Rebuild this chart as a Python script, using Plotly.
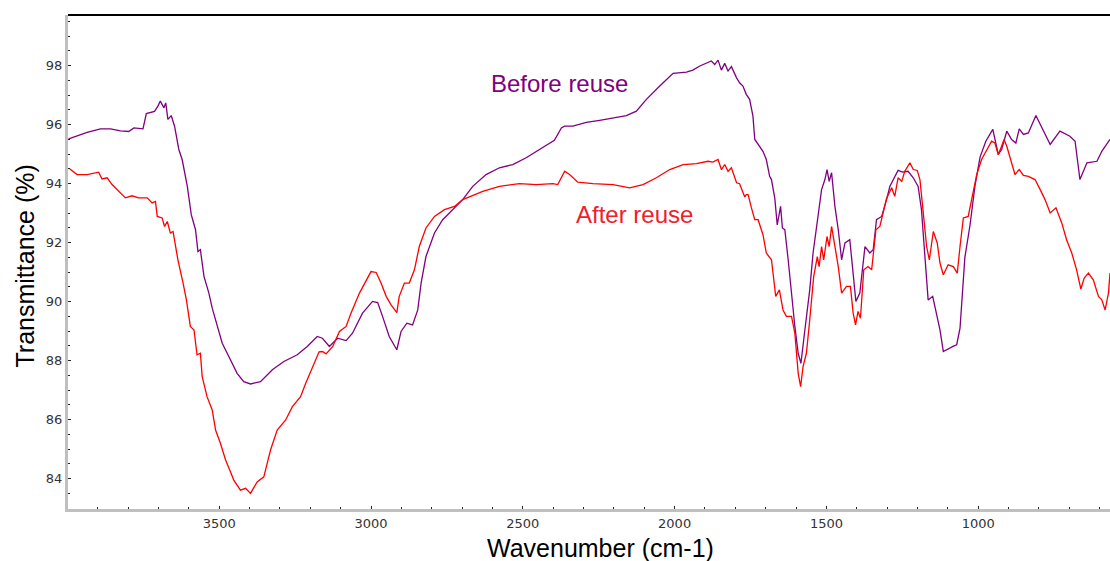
import plotly.graph_objects as go

# Before reuse (purple)
before_wn = [3996, 3935, 3891, 3858, 3825, 3798, 3781, 3751, 3740, 3713, 3702, 3694, 3682, 3676,
             3669, 3658, 3647, 3633, 3622, 3605, 3592, 3578, 3570, 3562, 3550, 3534, 3523, 3507,
             3490, 3463, 3441, 3419, 3397, 3364, 3325, 3287, 3243, 3210, 3177, 3160, 3146, 3137,
             3110, 3082, 3061, 3028, 2995, 2978, 2962, 2940, 2915, 2901, 2882, 2863, 2846, 2835,
             2819, 2791, 2764, 2731, 2698, 2665, 2621, 2577, 2533, 2489, 2445, 2396, 2373, 2363,
             2335, 2291, 2247, 2203, 2159, 2126, 2093, 2049, 2005, 1961, 1940, 1917, 1895, 1879,
             1868, 1857, 1846, 1835, 1824, 1813, 1796, 1786, 1775, 1764, 1753, 1742, 1736, 1720,
             1709, 1698, 1687, 1681, 1670, 1662, 1651, 1645, 1637, 1626, 1615, 1604, 1593, 1584,
             1571, 1555, 1544, 1527, 1516, 1505, 1498, 1491, 1483, 1472, 1461, 1450, 1439, 1423,
             1412, 1403, 1390, 1373, 1357, 1346, 1335, 1318, 1302, 1291, 1285, 1264, 1249, 1231,
             1214, 1198, 1187, 1176, 1165, 1150, 1137, 1126, 1115, 1100, 1080, 1071, 1060, 1044,
             1027, 1011, 994, 975, 952, 934, 923, 906, 890, 876, 865, 851, 835, 810, 786, 763,
             731, 698, 681, 665, 642, 609, 593, 566]
before_t = [95.52, 95.74, 95.86, 95.86, 95.79, 95.77, 95.89, 95.86, 96.38, 96.45, 96.63, 96.80, 96.57, 96.74,
            96.18, 96.31, 95.95, 95.16, 94.82, 93.91, 92.95, 92.44, 91.70, 91.76, 90.85, 90.29, 89.78, 89.16,
            88.59, 88.03, 87.57, 87.29, 87.21, 87.29, 87.69, 87.97, 88.20, 88.48, 88.82, 88.76, 88.57, 88.48,
            88.76, 88.68, 88.93, 89.61, 90.01, 89.97, 89.50, 88.82, 88.37, 88.99, 89.27, 89.21, 89.72, 90.63,
            91.53, 92.33, 92.78, 93.12, 93.46, 93.91, 94.31, 94.54, 94.65, 94.88, 95.16, 95.47, 95.89, 95.95,
            95.95, 96.08, 96.15, 96.23, 96.31, 96.46, 96.86, 97.31, 97.74, 97.78, 97.85, 97.99, 98.08, 98.16,
            98.04, 98.19, 97.85, 98.08, 97.82, 97.97, 97.59, 97.42, 97.31, 97.03, 96.86, 96.29, 95.50, 95.27,
            95.10, 94.82, 94.25, 94.14, 93.50, 92.60, 93.23, 92.50, 92.44, 91.42, 90.18, 89.16, 88.25, 87.91,
            89.04, 90.40, 91.65, 92.89, 93.80, 94.14, 94.48, 94.08, 94.37, 93.23, 92.44, 91.42, 91.99, 92.10,
            90.97, 90.01, 90.29, 91.87, 91.65, 91.76, 92.78, 92.89, 93.46, 93.91, 94.03, 94.45, 94.39, 94.42,
            94.20, 93.91, 93.12, 91.53, 90.06, 90.18, 89.61, 89.04, 88.31, 88.40, 88.50, 88.54, 89.10, 91.50,
            92.60, 93.91, 94.90, 95.44, 95.84, 94.99, 95.16, 95.78, 95.50, 95.38, 95.86, 95.67, 95.72, 96.31,
            95.78, 95.33, 95.78, 95.61, 95.44, 94.14, 94.71, 94.76, 95.10, 95.50]

# After reuse (red)
after_wn = [3992, 3968, 3935, 3897, 3886, 3869, 3853, 3825, 3809, 3787, 3765, 3737, 3721, 3710, 3704,
            3688, 3680, 3671, 3661, 3652, 3636, 3619, 3608, 3595, 3583, 3573, 3562, 3556, 3540, 3523,
            3512, 3496, 3479, 3463, 3452, 3430, 3413, 3397, 3375, 3353, 3331, 3309, 3281, 3259, 3232,
            3215, 3193, 3171, 3160, 3148, 3126, 3104, 3082, 3066, 3038, 3016, 3000, 2983, 2967, 2950,
            2934, 2915, 2907, 2890, 2874, 2857, 2841, 2819, 2791, 2758, 2725, 2698, 2670, 2632, 2577,
            2511, 2456, 2401, 2385, 2362, 2346, 2319, 2269, 2203, 2148, 2104, 2060, 2016, 1972, 1928,
            1890, 1874, 1857, 1846, 1835, 1824, 1813, 1796, 1786, 1780, 1769, 1764, 1758, 1747, 1742,
            1736, 1725, 1709, 1698, 1681, 1667, 1655, 1643, 1632, 1615, 1604, 1593, 1585, 1577, 1566,
            1555, 1542, 1530, 1524, 1516, 1509, 1498, 1491, 1483, 1472, 1461, 1450, 1434, 1421, 1412,
            1404, 1396, 1388, 1377, 1363, 1351, 1337, 1324, 1302, 1285, 1275, 1264, 1252, 1242, 1225,
            1214, 1201, 1192, 1181, 1170, 1161, 1148, 1135, 1126, 1115, 1099, 1082, 1069, 1060, 1049,
            1033, 1022, 1005, 989, 972, 956, 945, 934, 923, 915, 906, 893, 879, 865, 851, 835, 813,
            796, 780, 763, 744, 725, 709, 692, 676, 662, 651, 637, 621, 604, 593, 582, 571, 566]
after_t = [94.50, 94.31, 94.31, 94.39, 94.16, 94.20, 93.97, 93.69, 93.52, 93.59, 93.52, 93.52, 93.35, 93.40, 92.89,
           92.84, 92.55, 92.72, 92.33, 92.38, 91.42, 90.63, 90.06, 89.16, 89.04, 88.20, 88.25, 87.46, 86.78, 86.33,
           85.65, 85.20, 84.63, 84.23, 83.95, 83.61, 83.67, 83.50, 83.89, 84.06, 84.97, 85.65, 85.99, 86.44, 86.78,
           87.23, 87.74, 88.30, 88.31, 88.23, 88.48, 88.99, 89.16, 89.61, 90.29, 90.69, 91.02, 90.99, 90.63, 90.18,
           89.89, 89.63, 90.18, 90.63, 90.63, 91.08, 91.87, 92.50, 92.89, 93.12, 93.23, 93.46, 93.57, 93.74, 93.91,
           94.00, 93.97, 94.00, 93.97, 94.42, 94.31, 94.05, 94.00, 93.97, 93.86, 93.97, 94.20, 94.48, 94.65, 94.68,
           94.76, 94.73, 94.82, 94.48, 94.65, 94.42, 94.54, 94.03, 94.00, 93.86, 93.55, 93.63, 93.63, 93.18, 93.01,
           92.78, 92.78, 92.27, 91.65, 91.42, 90.18, 90.40, 89.72, 89.50, 89.50, 88.93, 87.57, 87.12, 87.80, 88.25,
           89.38, 90.85, 91.53, 91.19, 91.87, 91.42, 92.21, 91.87, 92.55, 91.87, 91.19, 90.29, 90.52, 90.52, 89.61,
           89.21, 89.67, 89.44, 91.08, 91.19, 91.08, 92.44, 92.55, 93.50, 93.86, 93.57, 94.20, 94.08, 94.42, 94.71,
           94.48, 94.45, 94.14, 93.01, 91.87, 91.42, 92.38, 91.99, 91.31, 90.91, 91.25, 91.19, 90.97, 91.87, 92.84,
           92.89, 93.46, 94.31, 94.82, 95.16, 95.44, 95.38, 94.99, 95.27, 95.50, 95.27, 94.76, 94.31, 94.48, 94.28, 94.25, 94.14,
           93.80, 93.46, 93.01, 93.18, 92.67, 92.10, 91.65, 91.08, 90.43, 90.80, 90.97, 90.74, 90.18, 90.06, 89.72, 90.29, 90.97]

x_ticks = [3500, 3000, 2500, 2000, 1500, 1000]
y_ticks = [84, 86, 88, 90, 92, 94, 96, 98]

PURPLE = "#800080"
RED = "#ff0000"
FONT = "Liberation Sans, Arial"
TICKFONT = "DejaVu Sans"

fig = go.Figure()
fig.add_trace(go.Scatter(x=before_wn, y=before_t, mode="lines",
                         line=dict(color=PURPLE, width=1.3), name="Before reuse"))
fig.add_trace(go.Scatter(x=after_wn, y=after_t, mode="lines",
                         line=dict(color=RED, width=1.3), name="After reuse"))

fig.add_annotation(x=2379, y=97.4, text="Before reuse", showarrow=False,
                   font=dict(family=FONT, size=24, color=PURPLE))
fig.add_annotation(x=2132, y=92.95, text="After reuse", showarrow=False,
                   font=dict(family=FONT, size=24, color="#f0202a"))

# axis titles placed as text (off-centre as in the original)
fig.add_annotation(xref="paper", yref="paper", x=(600 - 68) / 1042, y=-(548 - 509) / 494,
                   text="Wavenumber (cm-1)", showarrow=False, xanchor="center", yanchor="middle",
                   font=dict(family=FONT, size=25, color="black"))
fig.add_annotation(xref="paper", yref="paper", x=-(68 - 24) / 1042, y=(509 - 266.5) / 494,
                   text="Transmittance (%)", showarrow=False, textangle=-90,
                   xanchor="center", yanchor="middle",
                   font=dict(family=FONT, size=25, color="black"))

# top border line
fig.add_shape(type="line", xref="paper", yref="paper", x0=0, x1=1, y0=1, y1=1,
              line=dict(color="black", width=2))

fig.update_layout(
    width=1110, height=561,
    margin=dict(l=68, r=0, t=15, b=52),
    paper_bgcolor="white", plot_bgcolor="white",
    showlegend=False,
    font=dict(family=FONT, color="#222"),
)
fig.update_xaxes(
    range=[3998, 566], tickvals=x_ticks, ticktext=[str(v) for v in x_ticks],
    showgrid=False, zeroline=False,
    showline=True, linecolor="#c0c0c0", linewidth=3,
    ticks="inside", ticklen=3, tickcolor="#222", tickwidth=1,
    minor=dict(dtick=100, tick0=0, ticks="inside", ticklen=2, tickcolor="#222", tickwidth=1, showgrid=False),
    tickfont=dict(family=TICKFONT, size=13, color="#333"),
)
fig.update_yaxes(
    range=[82.97, 99.72], tickvals=y_ticks, ticktext=[str(v) for v in y_ticks],
    showgrid=False, zeroline=False,
    showline=True, linecolor="#c0c0c0", linewidth=3,
    ticks="inside", ticklen=3, tickcolor="#222", tickwidth=1,
    minor=dict(dtick=0.5, tick0=0, ticks="inside", ticklen=2, tickcolor="#222", tickwidth=1, showgrid=False),
    tickfont=dict(family=TICKFONT, size=13, color="#333"),
)

fig.write_html("out.html")
